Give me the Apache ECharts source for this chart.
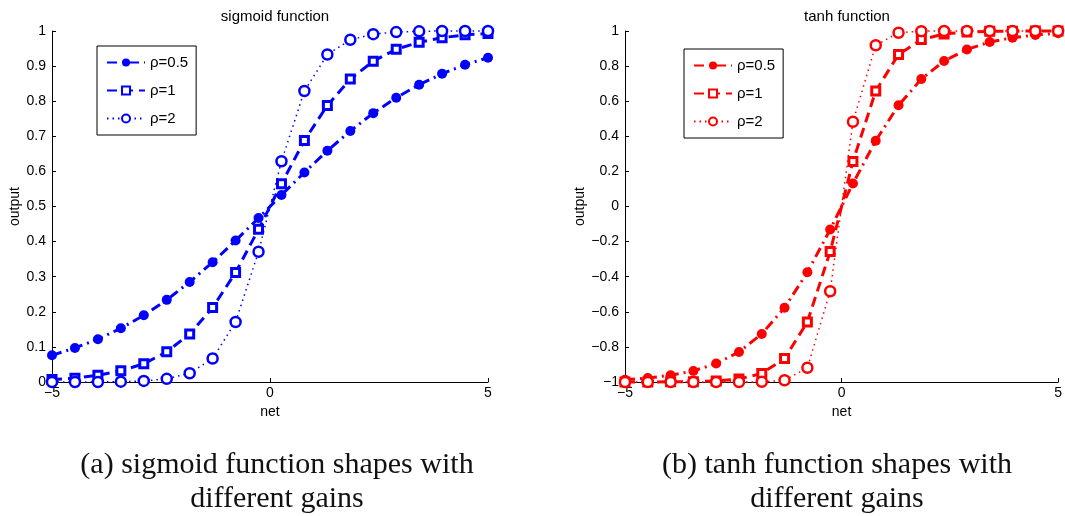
<!DOCTYPE html>
<html>
<head>
<meta charset="utf-8">
<script src="https://cdn.jsdelivr.net/npm/echarts@6/dist/echarts.min.js"></script>
<style>
html, body { margin: 0; padding: 0; background: #fff; }
#main { width: 1065px; height: 516px; }
</style>
</head>
<body>
<div id="main"></div>
<script>
// net values (20 samples from -5 to 5)
var netValues = [-5, -4.474, -3.947, -3.421, -2.895, -2.368, -1.842, -1.316, -0.789, -0.263,
                 0.263, 0.789, 1.316, 1.842, 2.368, 2.895, 3.421, 3.947, 4.474, 5];

var gainLabels = ['ρ=0.5', 'ρ=1', 'ρ=2'];

// sigmoid outputs
var sigRho05 = [0.076, 0.097, 0.122, 0.153, 0.190, 0.234, 0.285, 0.341, 0.403, 0.467,
                0.533, 0.597, 0.659, 0.715, 0.766, 0.810, 0.847, 0.878, 0.904, 0.924];
var sigRho1  = [0.007, 0.011, 0.019, 0.032, 0.052, 0.086, 0.137, 0.212, 0.312, 0.435,
                0.565, 0.688, 0.788, 0.863, 0.914, 0.948, 0.968, 0.981, 0.989, 0.993];
var sigRho2  = [0.000, 0.000, 0.000, 0.001, 0.003, 0.009, 0.025, 0.067, 0.171, 0.371,
                0.629, 0.829, 0.933, 0.975, 0.991, 0.997, 0.999, 1.000, 1.000, 1.000];

// tanh outputs
var tanhRho05 = [-0.987, -0.977, -0.962, -0.937, -0.895, -0.829, -0.726, -0.577, -0.375, -0.131,
                 0.131, 0.375, 0.577, 0.726, 0.829, 0.895, 0.937, 0.962, 0.977, 0.987];
var tanhRho1  = [-1.000, -1.000, -0.999, -0.998, -0.994, -0.983, -0.951, -0.866, -0.658, -0.257,
                 0.257, 0.658, 0.866, 0.951, 0.983, 0.994, 0.998, 0.999, 1.000, 1.000];
var tanhRho2  = [-1.000, -1.000, -1.000, -1.000, -1.000, -1.000, -0.999, -0.990, -0.919, -0.483,
                 0.483, 0.919, 0.990, 0.999, 1.000, 1.000, 1.000, 1.000, 1.000, 1.000];

var sigTicks = { min: 0, max: 1, interval: 0.1 };
var tanhTicks = { min: -1, max: 1, interval: 0.2 };

var axisFont = 'Liberation Sans';
var captionFont = 'Liberation Serif';

function pairs(xs, ys) {
    var out = [];
    for (var i = 0; i < xs.length; i++) out.push([xs[i], ys[i]]);
    return out;
}

function minusSign(v) {
    return String(v).replace('-', '\u2212');
}

// one line series per gain; prefix keeps the two legends apart
function makeSeries(prefix, idx, values, gainIdx, color) {
    var s = {
        name: prefix + gainLabels[gainIdx],
        type: 'line',
        xAxisIndex: idx,
        yAxisIndex: idx,
        data: pairs(netValues, values),
        clip: false,
        animation: false,
        lineStyle: { color: color }
    };
    if (gainIdx == 0) {
        s.symbol = 'circle';
        s.symbolSize = 10;
        s.itemStyle = { color: color };
        s.lineStyle.width = 3;
        s.lineStyle.type = [10, 5, 2, 5];
    } else if (gainIdx == 1) {
        s.symbol = 'rect';
        s.symbolSize = 8;
        s.itemStyle = { color: '#fff', borderColor: color, borderWidth: 3 };
        s.lineStyle.width = 3;
        s.lineStyle.type = [10, 6];
    } else {
        s.symbol = 'circle';
        s.symbolSize = 10;
        s.itemStyle = { color: '#fff', borderColor: color, borderWidth: 2.5 };
        s.lineStyle.width = 1.5;
        s.lineStyle.type = [1.5, 4];
    }
    return s;
}

function xAxisFor(idx) {
    return {
        gridIndex: idx,
        type: 'value',
        min: -5, max: 5, interval: 5,
        name: 'net',
        nameLocation: 'middle',
        nameGap: 23,
        nameTextStyle: { color: '#000', fontSize: 14, fontFamily: axisFont },
        axisLine: { onZero: false, lineStyle: { color: '#000', width: 1 } },
        axisTick: { inside: true, length: 4, lineStyle: { color: '#000' } },
        axisLabel: { color: '#000', fontSize: 14, fontFamily: axisFont, margin: 4, formatter: minusSign },
        splitLine: { show: false }
    };
}

function yAxisFor(idx, ticks, gap) {
    return {
        gridIndex: idx,
        type: 'value',
        min: ticks.min, max: ticks.max, interval: ticks.interval,
        name: 'output',
        nameLocation: 'middle',
        nameRotate: 90,
        nameGap: gap,
        nameTextStyle: { color: '#000', fontSize: 14, fontFamily: axisFont },
        axisLine: { show: true, onZero: false, lineStyle: { color: '#000', width: 1 } },
        axisTick: { show: true, inside: true, length: 4, lineStyle: { color: '#000' } },
        axisLabel: { color: '#000', fontSize: 14, fontFamily: axisFont, margin: 6, formatter: minusSign },
        splitLine: { show: false }
    };
}

function legendFor(prefix, left, top) {
    return {
        data: gainLabels.map(function (g) { return prefix + g; }),
        orient: 'vertical',
        left: left,
        top: top,
        itemWidth: 38,
        itemHeight: 10,
        itemGap: 13,
        padding: [9, 8, 9, 9],
        borderColor: '#000',
        borderWidth: 1,
        backgroundColor: '#fff',
        selectedMode: false,
        textStyle: { color: '#000', fontSize: 15, fontFamily: axisFont },
        formatter: function (name) { return name.replace(prefix, ''); }
    };
}

var myChart = echarts.init(document.getElementById('main'));

var option = {
    backgroundColor: '#fff',
    animation: false,
    title: [
        { text: 'sigmoid function', left: 270, top: 4, textAlign: 'center',
          textStyle: { color: '#000', fontSize: 15, fontWeight: 'normal', fontFamily: axisFont } },
        { text: 'tanh function', left: 842, top: 4, textAlign: 'center',
          textStyle: { color: '#000', fontSize: 15, fontWeight: 'normal', fontFamily: axisFont } },
        { text: '(a) sigmoid function shapes with\ndifferent gains', left: 272, top: 443, textAlign: 'center',
          textStyle: { color: '#111', fontSize: 30, fontWeight: 'normal', fontFamily: captionFont, lineHeight: 34 } },
        { text: '(b) tanh function shapes with\ndifferent gains', left: 832, top: 443, textAlign: 'center',
          textStyle: { color: '#111', fontSize: 30, fontWeight: 'normal', fontFamily: captionFont, lineHeight: 34 } }
    ],
    legend: [
        legendFor('a:', 97, 46),
        legendFor('b:', 684, 49)
    ],
    grid: [
        { left: 52, top: 31, width: 436, height: 351 },
        { left: 625, top: 31, width: 435, height: 351 }
    ],
    xAxis: [xAxisFor(0), xAxisFor(1)],
    yAxis: [yAxisFor(0, sigTicks, 28), yAxisFor(1, tanhTicks, 38)],
    series: [
        makeSeries('a:', 0, sigRho05, 0, '#0000ff'),
        makeSeries('a:', 0, sigRho1, 1, '#0000ff'),
        makeSeries('a:', 0, sigRho2, 2, '#0000ff'),
        makeSeries('b:', 1, tanhRho05, 0, '#ff0000'),
        makeSeries('b:', 1, tanhRho1, 1, '#ff0000'),
        makeSeries('b:', 1, tanhRho2, 2, '#ff0000')
    ]
};

myChart.setOption(option);
</script>
</body>
</html>
